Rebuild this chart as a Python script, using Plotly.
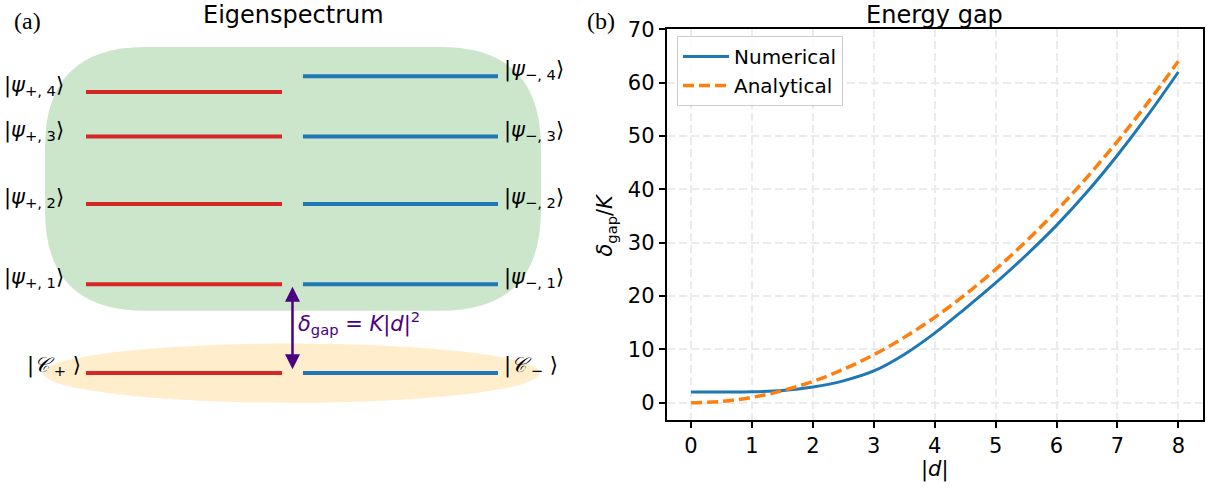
import plotly.graph_objects as go

# ---------------- data ----------------
# panel (b): energy gap
d_vals = [0, 0.5, 1, 1.5, 2, 2.5, 3, 3.5, 4, 4.5, 5, 5.5, 6, 6.5, 7, 7.5, 8]
gap_numerical = [2.0, 2.0, 2.05, 2.3, 2.95, 4.1, 5.95, 9.05, 13.05, 17.65, 22.45, 27.65, 33.25, 39.5, 46.4, 53.9, 62.0]
gap_analytical = [0.0, 0.25, 1.0, 2.25, 4.0, 6.25, 9.0, 12.25, 16.0, 20.25, 25.0, 30.25, 36.0, 42.25, 49.0, 56.25, 64.0]
x_ticks = [0, 1, 2, 3, 4, 5, 6, 7, 8]
y_ticks = [0, 10, 20, 30, 40, 50, 60, 70]

# panel (a): eigenspectrum levels (arbitrary energy units)
E_plus = [1.0, 1.905, 2.666, 3.168]
E_minus = [1.0, 1.905, 2.666, 3.345]
E_cat = 0.0
labels_plus = ["|<i>ψ</i><sub>+, %d</sub>⟩" % i for i in (1, 2, 3, 4)]
labels_minus = ["|<i>ψ</i><sub>−, %d</sub>⟩" % i for i in (1, 2, 3, 4)]
label_cat_plus = "|<i>𝒞</i><sub> +</sub> ⟩"
label_cat_minus = "|<i>𝒞</i><sub> −</sub> ⟩"

W, H = 1215, 489
RED = "#d62728"
BLUE = "#1f77b4"
ORANGE = "#ff7f0e"
INDIGO = "#4b0082"
FONT = "DejaVu Sans"

fig = go.Figure()

# ---------------- panel (a) ----------------
XP = (0.0, 1.0)        # x extent of "+" levels
XM = (1.107, 2.102)    # x extent of "-" levels

def level_trace(energies, xr, color):
    xs, ys = [], []
    for e in energies:
        xs += [xr[0], xr[1], None]
        ys += [e, e, None]
    return go.Scatter(x=xs, y=ys, mode="lines", line=dict(color=color, width=4),
                      xaxis="x2", yaxis="y2", showlegend=False, hoverinfo="skip")

fig.add_trace(level_trace(E_plus + [E_cat], XP, RED))
fig.add_trace(level_trace(E_minus + [E_cat], XM, BLUE))

# green rounded box around excited levels
bx0, bx1 = XP[0] - 0.209, XM[1] + 0.219
by0, by1 = min(E_plus) - 0.298, max(E_minus) + 0.33
rx, ry = 0.51, 1.127
path = (f"M {bx0+rx},{by1} L {bx1-rx},{by1} Q {bx1},{by1} {bx1},{by1-ry} "
        f"L {bx1},{by0+ry} Q {bx1},{by0} {bx1-rx},{by0} "
        f"L {bx0+rx},{by0} Q {bx0},{by0} {bx0},{by0+ry} "
        f"L {bx0},{by1-ry} Q {bx0},{by1} {bx0+rx},{by1} Z")
fig.add_shape(type="path", path=path, xref="x2", yref="y2", layer="below",
              fillcolor="#cce6cc", line=dict(width=0))
# orange ellipse around cat states
fig.add_shape(type="circle", xref="x2", yref="y2", layer="below",
              x0=XP[0] - 0.219, x1=XM[1] + 0.214, y0=E_cat - 0.335, y1=E_cat + 0.333,
              fillcolor="#ffedcc", line=dict(width=0))

KF = dict(family=FONT, size=21, color="black")
ann = []
for e, t in zip(E_plus, labels_plus):
    ann.append(dict(x=XP[0], y=e, xref="x2", yref="y2", text=t, showarrow=False,
                    xanchor="right", yanchor="middle", xshift=-20, yshift=6, font=KF))
for e, t in zip(E_minus, labels_minus):
    ann.append(dict(x=XM[1], y=e, xref="x2", yref="y2", text=t, showarrow=False,
                    xanchor="left", yanchor="middle", xshift=4, yshift=6, font=KF))
ann.append(dict(x=XP[0], y=E_cat, xref="x2", yref="y2", text=label_cat_plus, showarrow=False,
                xanchor="right", yanchor="middle", xshift=-3, yshift=7, font=KF))
ann.append(dict(x=XM[1], y=E_cat, xref="x2", yref="y2", text=label_cat_minus, showarrow=False,
                xanchor="left", yanchor="middle", xshift=4, yshift=7, font=KF))

xa = (XP[1] + XM[0]) / 2
ann.append(dict(x=xa, y=E_plus[0] - 0.027, ax=xa, ay=E_cat + 0.026,
                xref="x2", yref="y2", axref="x2", ayref="y2", text="",
                showarrow=True, arrowside="end+start", arrowhead=2, arrowsize=1.2,
                arrowwidth=2.5, arrowcolor=INDIGO))
ann.append(dict(x=xa, y=(E_plus[0] + E_cat) / 2, xref="x2", yref="y2",
                text="<i>δ</i><sub>gap</sub> = <i>K</i>|<i>d</i>|<sup>2</sup>",
                showarrow=False, xanchor="left", yanchor="middle", xshift=4, yshift=6,
                font=dict(family=FONT, size=21, color=INDIGO)))

# ---------------- panel (b) ----------------
fig.add_trace(go.Scatter(x=d_vals, y=gap_numerical, mode="lines", name="Numerical",
                         line=dict(color=BLUE, width=3, shape="spline", smoothing=1.0),
                         xaxis="x", yaxis="y"))
fig.add_trace(go.Scatter(x=d_vals, y=gap_analytical, mode="lines", name="Analytical",
                         line=dict(color=ORANGE, width=3.5, dash="11px,5px", shape="spline"),
                         xaxis="x", yaxis="y"))

L, R, T, B = 666.7, 1202.7, 29.3, 419.8
ax_common = dict(showline=True, linecolor="black", linewidth=2, mirror=True,
                 ticks="outside", ticklen=6, tickwidth=2, tickcolor="black",
                 showgrid=True, gridcolor="#ebebeb", gridwidth=1.5, griddash="8px,4px",
                 zeroline=False, tickfont=dict(family=FONT, size=21, color="black"),
                 automargin=False)

fig.update_layout(
    width=W, height=H,
    margin=dict(l=0, r=0, t=0, b=0),
    paper_bgcolor="white", plot_bgcolor="white",
    xaxis=dict(domain=[L / W, R / W], range=[-0.4, 8.4], tickvals=x_ticks, anchor="y", **ax_common),
    yaxis=dict(domain=[1 - B / H, 1 - T / H], range=[-3.2, 70], tickvals=y_ticks, anchor="x", **ax_common),
    xaxis2=dict(domain=[0, 0.5], range=[-0.4388, 2.6607], visible=False, anchor="y2"),
    yaxis2=dict(domain=[0, 1], range=[-1.308, 4.205], visible=False, anchor="x2"),
    legend=dict(x=677 / W, y=1 - 36 / H, xanchor="left", yanchor="top", itemwidth=46,
                bgcolor="rgba(255,255,255,0.85)", bordercolor="#cccccc", borderwidth=1,
                font=dict(family=FONT, size=20, color="black")),
    showlegend=True,
)

# titles and panel labels
ann += [
    dict(x=293 / W, y=1 - 15 / H, xref="paper", yref="paper", text="Eigenspectrum", showarrow=False,
         xanchor="center", yanchor="middle", font=dict(family=FONT, size=24, color="black")),
    dict(x=(L + R) / 2 / W, y=1 - 15 / H, xref="paper", yref="paper", text="Energy gap", showarrow=False,
         xanchor="center", yanchor="middle", font=dict(family=FONT, size=24, color="black")),
    dict(x=27 / W, y=1 - 21 / H, xref="paper", yref="paper", text="(a)", showarrow=False,
         xanchor="center", yanchor="middle", font=dict(family="Liberation Serif", size=24, color="black")),
    dict(x=601 / W, y=1 - 21 / H, xref="paper", yref="paper", text="(b)", showarrow=False,
         xanchor="center", yanchor="middle", font=dict(family="Liberation Serif", size=24, color="black")),
    dict(x=(L + R) / 2 / W, y=1 - 469 / H, xref="paper", yref="paper", text="|<i>d</i>|", showarrow=False,
         xanchor="center", yanchor="middle", font=dict(family=FONT, size=21, color="black")),
    dict(x=606 / W, y=1 - (T + B) / 2 / H, xref="paper", yref="paper",
         text="<i>δ</i><sub>gap</sub>/<i>K</i>", textangle=-90, showarrow=False,
         xanchor="center", yanchor="middle", font=dict(family=FONT, size=21, color="black")),
]
fig.update_layout(annotations=ann)

fig.write_html("out.html")
